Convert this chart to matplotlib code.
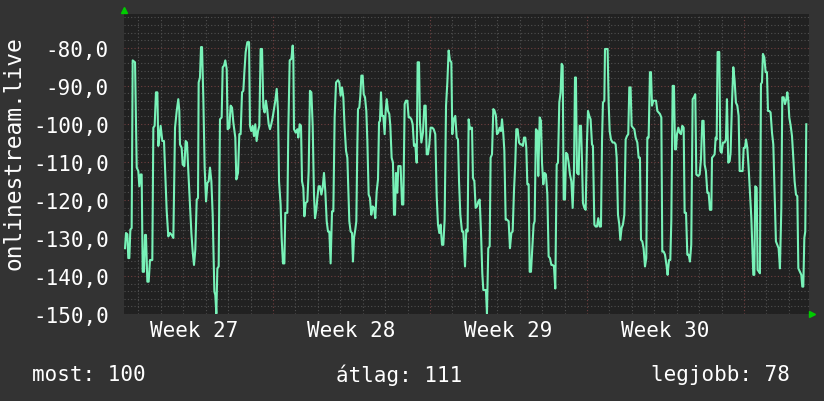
import matplotlib
matplotlib.use('Agg')
import matplotlib.pyplot as plt
from matplotlib.ticker import FuncFormatter

# signal level over about a month; time in hours from the left edge of the graph
hours = [
    # week 27
    1.1, 2.1, 3.6, 4.6, 5.7, 6.8, 8.2, 9.3, 11.8, 13.6,
    15.3, 16.4, 17.8, 18.9, 20.0, 21.4, 22.5, 23.5, 25.0, 26.4,
    27.8, 30.3, 31.4, 32.8, 34.2, 35.7, 36.7, 37.8, 39.2, 41.0,
    42.8, 44.2, 45.7, 47.4, 49.2, 51.0, 52.8, 54.6, 56.4, 58.1,
    59.2, 59.9, 61.7, 62.8, 64.6, 66.0, 67.4, 68.8, 70.6, 72.1,
    73.5, 74.9, 76.3, 77.8, 79.2, 79.9, 81.3, 82.4, 83.5, 84.9,
    86.3, 87.8, 89.2, 90.6, 92.0, 93.5, 94.9, 96.7, 97.7, 98.8,
    99.9, 101.3, 102.7, 104.5, 105.6, 107.0, 108.4, 109.9, 110.9, 112.7,
    114.1, 115.6, 117.0,
    119.1, 120.2, 122.0, 123.4, 124.8, 126.3, 127.7, 128.8, 130.2, 132.0,
    133.8, 134.8, 136.2, 137.7, 139.1, 140.5, 141.9, 143.4, 144.8, 146.2,
    147.7, 149.1, 150.5, 151.9, 153.4, 154.8, 156.2, 157.6, 159.1, 160.5,
    # week 28
    161.9, 163.4, 164.8, 165.9, 167.6, 168.7, 170.1, 171.6, 172.6, 174.8,
    175.8, 177.3, 179.1, 180.5, 181.2, 181.9, 183.7, 185.5, 186.5, 188.0,
    189.4, 190.5, 191.9, 193.0, 194.4, 196.2, 197.6, 199.0, 200.5, 201.9,
    203.3, 204.4, 205.8, 206.9, 208.3, 209.7, 211.2, 212.6, 214.0, 215.4,
    216.9, 218.3, 219.7, 221.1, 222.6, 224.0, 225.4, 226.9, 229.0, 230.4,
    231.8, 233.3, 234.7, 236.1, 237.6, 239.0,
    241.1, 242.5, 244.0, 245.0, 246.1, 247.5, 248.6, 249.7, 250.4, 251.8,
    252.9, 254.0, 255.4, 256.5, 257.9, 259.3, 260.4, 261.8, 263.2, 264.6,
    266.1, 267.5, 268.9, 270.4, 271.8, 272.9, 273.9, 275.0, 276.1, 277.5,
    278.9, 280.0, 281.1, 282.5, 283.9, 285.0, 286.4, 287.8, 288.9, 290.0,
    291.0, 292.5, 293.5, 296.0, 297.5, 298.9, 300.3, 301.7, 303.2, 304.6,
    306.0, 307.5, 308.9, 310.3, 311.7, 313.2, 314.2, 315.7, 316.7, 318.2,
    319.9, 321.4, 322.8, 323.9, 325.3, 326.7,
    # week 29
    328.1, 329.9, 331.4, 333.1,
    334.6, 336.0, 337.4, 338.8, 340.3, 341.7, 343.1, 344.6, 346.0, 347.4,
    348.8, 350.3, 351.3, 352.8, 354.5, 356.0, 357.4, 358.5, 359.9,
    361.7, 363.1, 364.9, 366.3, 367.7, 368.8, 370.2, 371.3, 372.4, 373.4,
    374.9, 376.3, 377.7, 379.1, 380.6, 382.0, 383.4, 384.5, 387.3, 388.4,
    389.8, 391.3, 392.3, 393.8, 395.2, 396.6, 398.0, 399.1, 400.5, 402.0,
    403.4, 404.5, 405.9, 407.0, 408.4, 409.8, 411.6, 413.0, 414.5, 415.9,
    417.3, 418.7, 419.8, 421.2, 422.7, 424.1, 425.5, 426.9, 428.0, 429.4,
    430.5, 431.6, 433.0, 434.1, 435.5, 436.9, 438.3, 439.4, 440.8, 442.3,
    443.3, 444.8, 446.2, 447.3, 448.7, 450.1, 451.5, 453.0, 454.4, 455.8,
    457.3, 458.7, 460.1, 461.5, 463.0, 464.4, 465.8, 467.2, 468.3, 469.4,
    470.5, 471.9, 473.0, 474.4, 475.8, 477.2, 478.7, 480.1, 481.5, 482.6,
    483.6, 484.7, 486.5, 487.6, 489.0, 490.1, 491.1, 492.6, 494.0, 495.4,
    # week 30
    496.5, 497.9, 499.3, 500.8, 501.8, 503.3, 504.7, 506.1, 507.5, 509.0,
    510.4, 511.5, 512.5, 514.0, 514.7, 517.5, 518.6, 519.7, 521.1, 522.9,
    524.7, 526.1, 527.2, 528.6, 530.0, 531.1, 532.5, 533.9, 535.4, 536.8,
    538.2, 539.6, 540.7, 542.1, 543.2, 544.6, 546.1, 547.5, 549.3, 550.7,
    552.1, 553.2, 554.6, 556.0, 557.5, 558.9, 560.0, 561.4, 562.8, 563.9,
    565.0, 566.4, 569.3, 570.7, 572.1, 573.5, 575.0, 576.0, 577.5, 578.9,
    580.7, 581.7, 583.2, 584.6, 585.7, 587.1, 588.5, 589.6, 590.7, 591.7,
    593.2, 594.6, 596.0, 597.4, 598.9, 599.9, 601.4, 602.8, 604.2,
    605.6, 607.0, 608.5, 609.9, 611.3, 612.4, 614.5, 616.0, 617.4, 618.8,
    620.2, 621.3, 622.7, 624.2, 625.6, 627.0, 628.5, 629.2, 630.6, 632.0,
    633.1, 634.2, 635.2, 637.0, 638.1, 639.5, 640.9, 642.7, 644.1, 645.2,
    646.6, 648.1, 649.1, 650.6, 652.0, 653.4, 654.8, 656.3, 657.7, 658.8,
    662.0, 663.1,
    # week 31
    664.5, 665.6, 667.0, 668.4, 669.8, 671.3, 672.3, 673.4,
    674.5, 675.5, 677.0, 678.0, 679.5, 680.5, 681.6, 682.7, 683.7, 685.2,
    686.6, 688.0, 689.1, 690.5, 691.9, 693.4, 694.8, 696.2, 697.6, 699.1,
    700.5, 701.9, 703.4, 704.4, 705.9, 707.3, 708.7, 709.8, 710.9, 711.9,
    713.4, 714.8, 716.2, 717.6, 719.1, 720.5, 721.6, 723.3, 724.8, 725.8,
    726.9, 728.0, 729.0, 730.1,
]

rssi = [
    -132.7, -128.7, -129.0, -135.3, -135.3, -127.8, -127.4, -83.3, -83.8, -111.5,
    -112.4, -116.4, -113.3, -113.3, -138.9, -138.9, -129.2, -129.2, -141.5, -141.5,
    -135.8, -135.8, -101.0, -100.5, -91.7, -91.7, -105.8, -103.6, -100.5, -104.5,
    -104.5, -113.3, -123.0, -129.6, -128.7, -129.2, -130.0, -101.0, -96.6, -93.5,
    -96.6, -105.4, -106.3, -110.7, -111.1, -104.5, -104.9, -112.4, -121.2, -128.7,
    -133.6, -137.1, -133.1, -119.9, -119.5, -89.1, -87.8, -79.8, -79.8, -93.5,
    -111.5, -120.4, -115.5, -115.1, -111.5, -115.1, -123.9, -144.1, -145.0, -149.9,
    -138.0, -137.5, -98.8, -98.3, -85.1, -84.7, -83.3, -85.6, -101.4, -101.0,
    -95.2, -95.7, -99.6,
    -103.6, -114.6, -112.9, -102.7, -102.7, -91.7, -91.3, -86.4, -81.1, -78.5,
    -78.5, -100.5, -101.9, -100.5, -103.2, -100.1, -104.5, -101.9, -100.5, -80.3,
    -80.3, -95.7, -97.0, -93.9, -96.6, -100.1, -101.4, -100.1, -98.3, -96.1,
    -93.9, -90.8, -96.6, -115.1, -121.2, -130.0, -136.7, -136.7, -123.4, -123.4,
    -101.9, -83.3, -82.9, -79.4, -82.5, -101.4, -102.3, -101.4, -103.6, -100.1,
    -100.5, -115.1, -116.8, -124.3, -120.8, -120.4, -112.4, -91.3, -91.7, -100.5,
    -118.6, -124.8, -122.6, -119.5, -116.4, -116.4, -118.6, -116.8, -112.9, -117.7,
    -125.6, -128.3, -128.3, -136.7, -123.0, -123.0, -98.3, -89.1, -88.5, -89.1,
    -92.6, -90.4, -93.0, -101.0, -107.1, -108.9,
    -125.6, -128.3, -128.7, -136.2, -130.0, -127.8, -125.6, -105.4, -96.1, -95.7,
    -92.6, -87.3, -87.3, -92.2, -93.0, -96.6, -104.5, -118.6, -119.5, -123.9,
    -121.7, -122.1, -124.8, -117.7, -114.6, -99.6, -99.2, -91.7, -97.9, -97.9,
    -102.7, -96.6, -93.5, -96.6, -97.4, -100.5, -108.9, -110.2, -123.9, -123.9,
    -112.9, -118.1, -111.1, -111.1, -121.2, -121.2, -94.8, -93.9, -93.9, -98.3,
    -98.3, -98.8, -100.1, -105.8, -105.4, -110.2, -83.8, -83.8, -99.6, -104.9,
    -102.3, -95.2, -95.2, -108.0, -108.0, -105.4, -101.0, -101.0, -101.4, -102.7,
    -119.0, -126.5, -128.7, -126.5, -131.8, -131.8, -125.2, -95.2, -89.1, -80.7,
    -83.3, -83.8, -102.7, -98.8, -97.9, -103.6, -104.1, -115.1, -123.9,
    -128.3, -128.3, -137.5, -127.8, -128.3, -98.8, -101.4, -101.0, -101.0, -114.2,
    -115.1, -122.1, -121.7, -120.4, -119.9, -128.3, -139.3, -143.7, -143.7, -149.9,
    -132.7, -132.2, -108.9, -108.0, -96.1, -96.6, -97.9, -102.7, -102.3, -101.0,
    -101.9, -98.8, -102.7, -107.1, -125.2, -125.2, -125.6, -132.7, -128.7, -128.3,
    -117.7, -110.2, -101.4, -101.4, -104.9, -105.4, -105.4, -105.8, -103.6, -103.6,
    -106.3, -115.9, -115.9, -138.9, -138.9, -132.7, -126.5, -125.6, -101.4, -101.9,
    -113.7, -98.3, -99.2, -110.2, -115.9, -112.9, -113.3, -118.6, -134.9, -135.3,
    -137.1, -137.1, -137.5, -143.3, -110.7, -110.2, -94.4, -91.7, -84.2, -84.7,
    -119.9, -119.9, -107.6, -108.0, -110.2, -113.3, -115.1, -122.1, -112.4, -87.8,
    -87.8, -112.9, -113.3, -100.5, -100.5, -109.8, -120.8, -122.1, -122.6, -104.9,
    -96.6, -97.9, -98.8, -105.4, -105.8, -126.5, -127.0, -127.0, -124.8, -127.0,
    -127.0, -104.5, -94.4, -93.9, -80.3, -80.3, -94.4, -101.9, -104.1, -104.9,
    -104.9, -105.4, -108.9, -123.9, -126.5, -130.5, -127.4, -126.5, -123.9, -104.1,
    -103.2, -102.7, -90.4, -90.4, -100.5, -101.0, -101.4, -103.6, -104.9, -108.9,
    -108.9, -130.5, -130.9, -132.7, -137.5, -135.3, -103.6, -103.6, -86.4, -86.4,
    -95.2, -93.9, -93.9, -96.6, -97.0, -97.4, -98.3, -133.6, -133.6, -134.4,
    -137.5, -139.7, -135.8, -135.8, -125.2, -90.0, -90.0, -106.7, -106.7, -102.7,
    -101.0, -102.3, -102.7, -100.5, -101.0, -123.4, -123.4, -134.4, -134.4,
    -136.2, -131.8, -93.5, -93.0, -92.2, -113.3, -113.7, -113.3, -109.3, -99.2,
    -99.2, -110.7, -112.4, -118.1, -118.1, -122.6, -122.6, -108.9, -108.5, -108.0,
    -103.6, -104.1, -81.1, -81.1, -107.1, -107.6, -104.9, -104.9, -104.1, -93.5,
    -110.2, -109.8, -107.6, -94.4, -85.1, -88.6, -94.4, -95.2, -97.9, -112.4,
    -112.4, -106.3, -106.3, -104.1, -106.3, -111.5, -118.1, -124.8, -131.8, -139.7,
    -139.7, -116.4, -116.8, -138.4, -138.9, -139.3, -89.5, -89.1, -81.6, -82.5,
    -86.4, -86.4, -96.6, -96.6, -97.0, -102.3, -105.4, -118.1, -130.9, -131.8,
    -132.7, -138.0, -122.1, -93.0, -93.0, -94.8, -93.5, -91.7, -93.9, -98.3,
    -100.5, -103.2, -108.9, -115.1, -118.6, -119.0, -138.0, -138.9, -139.7, -142.8,
    -142.8, -130.0, -128.3, -100.1,
]

week_labels = ['Week 27', 'Week 28', 'Week 29', 'Week 30']
week_start = [-8.6, 159.4, 327.4, 495.4, 663.4]   # hours, week boundaries
first_midnight = 15.4
span = 733.0
legend_text = ['most: 100', 'átlag: 111', 'legjobb: 78']

plt.rcParams['font.family'] = ['DejaVu Sans Mono']

fig = plt.figure(figsize=(8.24, 4.02), dpi=100, facecolor='#333333')
ax = fig.add_axes([124 / 824, 87 / 402, 685 / 824, 300 / 402])
ax.set_facecolor('#212121')

ax.plot(hours, rssi, color='#78f2b8', lw=1.5, zorder=3)

ax.set_xlim(0, span)
ax.set_ylim(-150, -71.1)

ax.set_yticks(range(-150, -79, 10))
ax.set_yticks(range(-150, -71, 2), minor=True)
ax.yaxis.set_major_formatter(FuncFormatter(lambda v, p: f'{v:.1f}'.replace('.', ',')))

days = [first_midnight + 24 * k for k in range(31) if first_midnight + 24 * k < span]
ax.set_xticks([w for w in week_start if 0 < w < span])
ax.set_xticks(days, minor=True)
ax.set_xticklabels([])

ax.grid(which='minor', color='#505050', ls=(0, (1, 2)), lw=0.8)
ax.grid(which='major', color='#704040', ls=(0, (1, 2)), lw=0.8)
ax.set_axisbelow(True)

ax.tick_params(axis='both', which='both', length=0)
ax.tick_params(axis='y', pad=11, labelsize=15, labelcolor='white')
for s in ax.spines.values():
    s.set_visible(False)

for i, lab in enumerate(week_labels):
    mid = (week_start[i] + week_start[i + 1]) / 2
    ax.text(mid, -0.053, lab, transform=ax.get_xaxis_transform(),
            ha='center', va='center', fontsize=15, color='white')

# little green arrows at the ends of the axes
ax.plot([0], [1.015], marker='^', ms=5, color='#00cc00', transform=ax.transAxes, clip_on=False)
ax.plot([1.005], [0], marker='>', ms=5, color='#00cc00', transform=ax.transAxes, clip_on=False)

fig.text(14 / 824, 1 - 153 / 402, 'onlinestream.live', rotation=90,
         ha='center', va='center', fontsize=16.5, color='white')

fig.text(32 / 824, 1 - 375 / 402, legend_text[0], ha='left', va='center', fontsize=15, color='white')
fig.text(399 / 824, 1 - 375 / 402, legend_text[1], ha='center', va='center', fontsize=15, color='white')
fig.text(790 / 824, 1 - 375 / 402, legend_text[2], ha='right', va='center', fontsize=15, color='white')

fig.savefig('out.png', dpi=100, facecolor=fig.get_facecolor())
